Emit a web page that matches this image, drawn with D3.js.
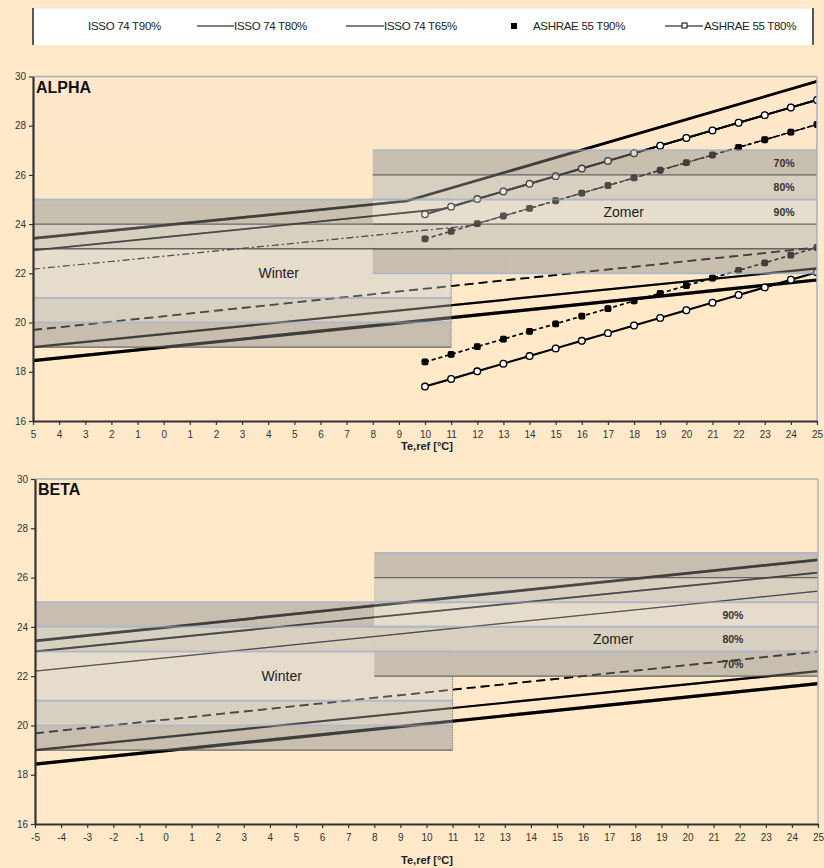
<!DOCTYPE html>
<html>
<head>
<meta charset="utf-8">
<script src="https://cdn.jsdelivr.net/npm/d3@7"></script>
<style>
  html, body { margin: 0; padding: 0; background: #FFE9C9; }
  svg { display: block; font-family: "Liberation Sans", Arial, Helvetica, sans-serif; }
</style>
</head>
<body>
<svg id="chart" width="824" height="868"></svg>
<script>
// ---------------- data ----------------
const xDomain = [-5, 25];
const yDomain = [16, 30];
const yTickValues = [16, 18, 20, 22, 24, 26, 28, 30];
const xTickValues = [-5, -4, -3, -2, -1, 0, 1, 2, 3, 4, 5, 6, 7, 8, 9, 10, 11, 12, 13, 14, 15, 16, 17, 18, 19, 20, 21, 22, 23, 24, 25];
const alphaTickLabels = ["5", "4", "3", "2", "1", "0", "1", "2", "3", "4", "5", "6", "7", "8", "9", "10", "11", "12", "13", "14", "15", "16", "17", "18", "19", "20", "21", "22", "23", "24", "25"];
const betaTickLabels = ["-5", "-4", "-3", "-2", "-1", "0", "1", "2", "3", "4", "5", "6", "7", "8", "9", "10", "11", "12", "13", "14", "15", "16", "17", "18", "19", "20", "21", "22", "23", "24", "25"];

// ISSO 74 limits, ALPHA buildings: [Te,ref, T]
const alphaIsso65Upper = [[-5, 23.42], [9.3, 24.94], [25, 29.8]];
const alphaIsso80Upper = [[-5, 22.93], [10.7, 24.62], [25, 29.05]];
const alphaIsso90Upper = [[-5, 22.17], [11.7, 23.93], [25, 28.05]];
const alphaIsso90Lower = [[-5, 19.7], [25, 23.05]];
const alphaIsso80Lower = [[-5, 19.0], [25, 22.2]];
const alphaIsso65Lower = [[-5, 18.45], [25, 21.73]];

// ISSO 74 limits, BETA buildings
const betaIsso65Upper = [[-5, 23.43], [25, 26.72]];
const betaIsso80Upper = [[-5, 23.0], [25, 26.2]];
const betaIsso90Upper = [[-5, 22.2], [25, 25.45]];
const betaIsso90Lower = [[-5, 19.68], [25, 23.0]];
const betaIsso80Lower = [[-5, 19.0], [25, 22.2]];
const betaIsso65Lower = [[-5, 18.43], [25, 21.7]];

// ASHRAE 55 adaptive limits
const ashraeTe = [10, 11, 12, 13, 14, 15, 16, 17, 18, 19, 20, 21, 22, 23, 24, 25];
const ashrae90Upper = [23.40, 23.71, 24.02, 24.33, 24.64, 24.95, 25.26, 25.57, 25.88, 26.19, 26.50, 26.81, 27.12, 27.43, 27.74, 28.05];
const ashrae80Upper = [24.40, 24.71, 25.02, 25.33, 25.64, 25.95, 26.26, 26.57, 26.88, 27.19, 27.50, 27.81, 28.12, 28.43, 28.74, 29.05];
const ashrae90Lower = [18.40, 18.71, 19.02, 19.33, 19.64, 19.95, 20.26, 20.57, 20.88, 21.19, 21.50, 21.81, 22.12, 22.43, 22.74, 23.05];
const ashrae80Lower = [17.40, 17.71, 18.02, 18.33, 18.64, 18.95, 19.26, 19.57, 19.88, 20.19, 20.50, 20.81, 21.12, 21.43, 21.74, 22.05];

// comfort zones: Te,ref range and nested temperature bands (70%, 80%, 90%)
const winterRange = [-5, 11];
const winterBands = [[19, 25], [20, 24], [21, 23]];
const summerRange = [8, 25];
const summerBands = [[22, 27], [23, 26], [24, 25]];
const bandNames = ["70%", "80%", "90%"];

const legendLabels = ["ISSO 74 T90%", "ISSO 74 T80%", "ISSO 74 T65%", "ASHRAE 55 T90%", "ASHRAE 55 T80%"];

// ---------------- styles ----------------
const bandFills = ["#A5A39E", "#BEBEBB", "#D5D5CF"];
const edgeStyle = {
  light: { stroke: "#B2B9C6", width: 2 },
  dark: { stroke: "#666666", width: 1.3 }
};
const lineStyles = {
  u65: { width: 2.7, dash: null },
  u80: { width: 1.8, dash: null },
  u90a: { width: 1.2, dash: "7,3,2,3" },
  u90b: { width: 1.2, dash: null },
  l90: { width: 1.8, dash: "9,5" },
  l80: { width: 2.2, dash: null },
  l65: { width: 3.2, dash: null }
};

const charts = [
  {
    title: "ALPHA",
    frame: { left: 33, right: 817, top: 76.5, bottom: 421 },
    tickLabels: alphaTickLabels,
    axisTitleY: 450,
    series: [
      { pts: alphaIsso65Upper, style: "u65" },
      { pts: alphaIsso80Upper, style: "u80" },
      { pts: alphaIsso90Upper, style: "u90a" },
      { pts: alphaIsso90Lower, style: "l90" },
      { pts: alphaIsso80Lower, style: "l80" },
      { pts: alphaIsso65Lower, style: "l65" }
    ],
    ashrae: true,
    winterEdges: [[25, "light"], [24, "dark"], [23, "dark"], [21, "light"], [20, "light"], [19, "dark"]],
    summerEdges: [[27, "light"], [26, "dark"], [25, "light"], [24, "dark"], [23, "dark"], [22, "light"]],
    winterLabel: { x: 4.4, y: 22 },
    summerLabel: { x: 17.6, y: 24.5 },
    pctX: 23.74,
    pctYs: [26.5, 25.5, 24.5]
  },
  {
    title: "BETA",
    frame: { left: 35, right: 818, top: 479, bottom: 824 },
    tickLabels: betaTickLabels,
    axisTitleY: 864,
    series: [
      { pts: betaIsso65Upper, style: "u65" },
      { pts: betaIsso80Upper, style: "u80" },
      { pts: betaIsso90Upper, style: "u90b" },
      { pts: betaIsso90Lower, style: "l90" },
      { pts: betaIsso80Lower, style: "l80" },
      { pts: betaIsso65Lower, style: "l65" }
    ],
    ashrae: false,
    winterEdges: [[25, "light"], [24, "light"], [23, "light"], [21, "light"], [20, "light"], [19, "dark"]],
    summerEdges: [[27, "light"], [26, "dark"], [25, "light"], [24, "light"], [23, "light"], [22, "dark"]],
    winterLabel: { x: 4.45, y: 22 },
    summerLabel: { x: 17.15, y: 23.5 },
    pctX: 21.74,
    pctYs: [22.5, 23.5, 24.5]
  }
];

const svg = d3.select("#chart");

// ---------------- legend ----------------
(function drawLegend() {
  const lg = svg.append("g");
  lg.append("rect").attr("x", 33).attr("y", 8).attr("width", 780).attr("height", 37).attr("fill", "#ffffff");
  lg.append("line").attr("x1", 33).attr("x2", 813).attr("y1", 8).attr("y2", 8).attr("stroke", "#e6e6e6").attr("stroke-width", 1);
  [33, 813].forEach(xx => lg.append("line").attr("x1", xx).attr("x2", xx).attr("y1", 8).attr("y2", 45)
    .attr("stroke", "#222").attr("stroke-width", 1.5));
  const ty = 30, ly = 26;
  const txt = (x, s) => lg.append("text").attr("x", x).attr("y", ty).attr("font-size", 11.5)
    .attr("fill", "#222").attr("letter-spacing", -0.3).text(s);
  txt(88, legendLabels[0]);
  lg.append("line").attr("x1", 197).attr("x2", 234).attr("y1", ly).attr("y2", ly).attr("stroke", "#000").attr("stroke-width", 1.2);
  txt(234, legendLabels[1]);
  lg.append("line").attr("x1", 346).attr("x2", 384).attr("y1", ly).attr("y2", ly).attr("stroke", "#000").attr("stroke-width", 1.2);
  txt(384, legendLabels[2]);
  lg.append("rect").attr("x", 511).attr("y", ly - 3).attr("width", 6).attr("height", 6).attr("fill", "#000");
  txt(533, legendLabels[3]);
  lg.append("line").attr("x1", 665).attr("x2", 703).attr("y1", ly).attr("y2", ly).attr("stroke", "#000").attr("stroke-width", 1.2);
  lg.append("rect").attr("x", 682).attr("y", ly - 3).attr("width", 5).attr("height", 5).attr("fill", "#fff").attr("stroke", "#000").attr("stroke-width", 1);
  txt(704, legendLabels[4]);
})();

// ---------------- charts ----------------
charts.forEach((cfg, ci) => {
  const f = cfg.frame;
  const x = d3.scaleLinear().domain(xDomain).range([f.left, f.right]);
  const y = d3.scaleLinear().domain(yDomain).range([f.bottom, f.top]);
  const g = svg.append("g");

  const clipId = "clip" + ci;
  svg.append("clipPath").attr("id", clipId).append("rect")
    .attr("x", f.left).attr("y", f.top).attr("width", f.right - f.left).attr("height", f.bottom - f.top);

  const plot = g.append("g").attr("clip-path", `url(#${clipId})`);
  const line = d3.line().x(d => x(d[0])).y(d => y(d[1]));

  // limit lines and markers; drawn once below the bands and once, faintly, above them
  function drawMarks(layer) {
    cfg.series.forEach(s => {
      const st = lineStyles[s.style];
      layer.append("path").attr("d", line(s.pts)).attr("fill", "none")
        .attr("stroke", "#000").attr("stroke-width", st.width)
        .attr("stroke-dasharray", st.dash);
    });
    if (!cfg.ashrae) return;
    const mk = arr => ashraeTe.map((t, i) => [t, arr[i]]);
    [ashrae90Upper, ashrae90Lower].forEach(arr => {
      const pts = mk(arr);
      layer.append("path").attr("d", line(pts)).attr("fill", "none").attr("stroke", "#000")
        .attr("stroke-width", 1.6).attr("stroke-dasharray", "4,3");
      layer.selectAll(null).data(pts).enter().append("rect")
        .attr("x", d => x(d[0]) - 3.4).attr("y", d => y(d[1]) - 3.4)
        .attr("width", 6.8).attr("height", 6.8).attr("rx", 1.8).attr("fill", "#000");
    });
    [ashrae80Upper, ashrae80Lower].forEach(arr => {
      const pts = mk(arr);
      layer.append("path").attr("d", line(pts)).attr("fill", "none").attr("stroke", "#000").attr("stroke-width", 2);
      layer.selectAll(null).data(pts).enter().append("circle")
        .attr("cx", d => x(d[0])).attr("cy", d => y(d[1])).attr("r", 3.3)
        .attr("fill", "#fff").attr("stroke", "#000").attr("stroke-width", 1.3);
    });
  }
  drawMarks(plot.append("g"));

  // comfort bands, drawn translucently over the lines
  const bandG = plot.append("g").attr("opacity", 0.6);
  [[winterRange, winterBands], [summerRange, summerBands]].forEach(([rng, bands]) => {
    bands.forEach((b, i) => {
      bandG.append("rect")
        .attr("x", x(rng[0])).attr("width", x(rng[1]) - x(rng[0]))
        .attr("y", y(b[1])).attr("height", y(b[0]) - y(b[1]))
        .attr("fill", bandFills[i]);
    });
  });

  // band edges
  [[winterRange, cfg.winterEdges], [summerRange, cfg.summerEdges]].forEach(([rng, edges]) => {
    edges.forEach(([v, kind]) => {
      plot.append("line").attr("x1", x(rng[0])).attr("x2", x(rng[1]))
        .attr("y1", y(v)).attr("y2", y(v))
        .attr("stroke", edgeStyle[kind].stroke).attr("stroke-width", edgeStyle[kind].width);
    });
  });
  plot.append("line").attr("x1", x(winterRange[1])).attr("x2", x(winterRange[1]))
    .attr("y1", y(winterBands[0][0])).attr("y2", y(summerBands[0][0]))
    .attr("stroke", "#777").attr("stroke-width", 1).attr("stroke-dasharray", "1,1");

  // lines showing through the bands
  drawMarks(plot.append("g").attr("opacity", 0.35));

  // zone labels
  g.append("text").attr("x", x(cfg.winterLabel.x)).attr("y", y(cfg.winterLabel.y))
    .attr("text-anchor", "middle").attr("dominant-baseline", "central")
    .attr("font-size", 14).attr("fill", "#222").text("Winter");
  g.append("text").attr("x", x(cfg.summerLabel.x)).attr("y", y(cfg.summerLabel.y))
    .attr("text-anchor", "middle").attr("dominant-baseline", "central")
    .attr("font-size", 14).attr("fill", "#222").text("Zomer");

  // percentage labels inside the summer bands
  bandNames.forEach((name, i) => {
    g.append("text").attr("x", x(cfg.pctX)).attr("y", y(cfg.pctYs[i]))
      .attr("text-anchor", "middle").attr("dominant-baseline", "central")
      .attr("font-size", 10.5).attr("font-weight", "bold").attr("fill", "#333").text(name);
  });

  // frame: light top and right borders
  g.append("line").attr("x1", f.left).attr("x2", f.right).attr("y1", f.top).attr("y2", f.top)
    .attr("stroke", "#A9B2BF").attr("stroke-width", 1.5);
  g.append("line").attr("x1", f.right).attr("x2", f.right).attr("y1", f.top).attr("y2", f.bottom)
    .attr("stroke", "#A9B2BF").attr("stroke-width", 1.5);

  // axes
  const yAxis = d3.axisLeft(y).tickValues(yTickValues).tickSize(4).tickSizeOuter(0).tickPadding(3);
  const yg = g.append("g").attr("transform", `translate(${f.left},0)`).call(yAxis);
  const xAxis = d3.axisBottom(x).tickValues(xTickValues).tickSize(4).tickSizeOuter(0).tickPadding(6)
    .tickFormat((d, i) => cfg.tickLabels[i]);
  const xg = g.append("g").attr("transform", `translate(0,${f.bottom})`).call(xAxis);
  [yg, xg].forEach(a => {
    a.select(".domain").attr("stroke", "#333").attr("stroke-width", 2.2);
    a.selectAll(".tick line").attr("stroke", "#333").attr("stroke-width", 1.2);
    a.selectAll(".tick text").attr("font-size", 10).attr("fill", "#333")
      .attr("font-family", "'Liberation Sans', Arial, sans-serif");
  });

  // chart title
  g.append("text").attr("x", f.left + 3).attr("y", f.top + 16)
    .attr("font-size", 16).attr("font-weight", "bold").attr("fill", "#111").text(cfg.title);

  // x-axis title
  g.append("text").attr("x", 427).attr("y", cfg.axisTitleY)
    .attr("text-anchor", "middle").attr("font-size", 11).attr("font-weight", "bold")
    .attr("fill", "#222").text("Te,ref [°C]");
});
</script>
</body>
</html>
